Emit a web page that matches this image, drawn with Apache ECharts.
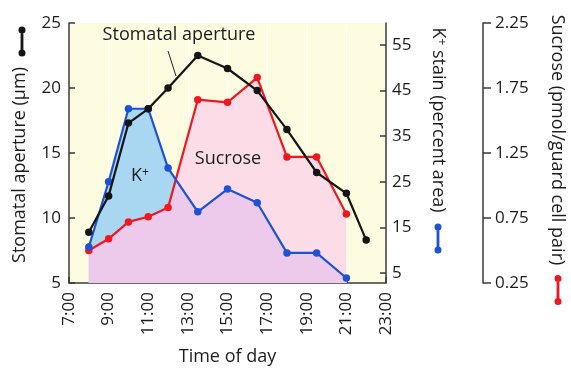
<!DOCTYPE html>
<html>
<head>
	<meta charset="utf-8" />
	<title>Stomatal aperture, K+ and sucrose</title>
	<script src="https://cdn.jsdelivr.net/npm/echarts@6/dist/echarts.min.js"></script>
	<style>
		html, body { margin: 0; padding: 0; background: #fff; }
		#chart { width: 571px; height: 368px; }
	</style>
</head>
<body>
	<div id="chart"></div>
	<script type="text/javascript">
		// time of day (hours)
		const apertureTimes = [8, 9, 10, 11, 12, 13.5, 15, 16.5, 18, 19.5, 21, 22];
		const aperture = [8.9, 11.7, 17.3, 18.4, 20.0, 22.5, 21.5, 19.8, 16.8, 13.5, 11.9, 8.3];

		const stainTimes = [8, 9, 10, 11, 12, 13.5, 15, 16.5, 18, 19.5, 21];
		const kStain = [10.7, 25, 41, 41, 28, 18.4, 23.4, 20.4, 9.4, 9.4, 3.9];
		const sucrose = [0.50, 0.59, 0.72, 0.76, 0.83, 1.66, 1.64, 1.83, 1.22, 1.22, 0.78];

		const kTicks = [5, 15, 25, 35, 45, 55];
		const sucTicks = [0.25, 0.75, 1.25, 1.75, 2.25];

		const kMin = 2.8, kMax = 59.8;
		const sucMin = 0.25, sucMax = 2.25;

		const font = 'Open Sans';
		const ink = '#1c1c1c';
		const axisInk = '#3a3a3a';
		const tickSize = 17;
		const textSize = 18;

		const cBlack = '#151515';
		const cBlue = '#1d52d6';
		const cRed = '#f01820';

		const chart = echarts.init(document.getElementById('chart'));

		// K+ stain expressed on the sucrose scale, so the shared part under both lines can be filled
		const kToSuc = function (k) {
			return sucMin + (k - kMin) / (kMax - kMin) * (sucMax - sucMin);
		};
		const lowerEdge = [];
		for (let i = 0; i < stainTimes.length; i++) {
			const a = kToSuc(kStain[i]), b = sucrose[i];
			lowerEdge.push([stainTimes[i], Math.min(a, b)]);
			if (i < stainTimes.length - 1) {
				const a2 = kToSuc(kStain[i + 1]), b2 = sucrose[i + 1];
				const d1 = a - b, d2 = a2 - b2;
				if (d1 * d2 < 0) {
					const t = d1 / (d1 - d2);
					lowerEdge.push([stainTimes[i] + t * (stainTimes[i + 1] - stainTimes[i]), a + t * (a2 - a)]);
				}
			}
		}

		const pairs = function (xs, ys) {
			return xs.map(function (x, i) { return [x, ys[i]]; });
		};

		const fill = function (name, yIdx, data, color, z) {
			return {
				name: name,
				type: 'line',
				yAxisIndex: yIdx,
				data: data,
				showSymbol: false,
				symbol: 'none',
				silent: true,
				z: z,
				lineStyle: { width: 0 },
				areaStyle: { color: color, opacity: 1 },
				animation: false
			};
		};

		const line = function (name, yIdx, data, color, z) {
			return {
				name: name,
				type: 'line',
				yAxisIndex: yIdx,
				data: data,
				symbol: 'circle',
				symbolSize: 7.5,
				z: z,
				lineStyle: { color: color, width: 2.2 },
				itemStyle: { color: color },
				animation: false
			};
		};

		// legend key: short vertical line with a dot on each end (all parts wound the same way)
		const keyIcon = 'path://M0,3.5a3.5,3.5 0 1,0 7,0a3.5,3.5 0 1,0 -7,0Z' +
			'M2.1,4L2.1,26L4.9,26L4.9,4Z' +
			'M0,26.5a3.5,3.5 0 1,0 7,0a3.5,3.5 0 1,0 -7,0Z';

		const key = function (name, left, top) {
			return {
				data: [name],
				left: left,
				top: top,
				padding: 0,
				orient: 'vertical',
				icon: keyIcon,
				itemWidth: 7,
				itemHeight: 30,
				selectedMode: false,
				formatter: function () { return ''; },
				textStyle: { fontSize: 1 }
			};
		};

		const titleStyle = {
			fontFamily: font,
			fontSize: textSize,
			fill: ink,
			align: 'center',
			verticalAlign: 'middle'
		};

		const kRich = {
			b: { fontFamily: font, fontSize: textSize, color: ink },
			s: { fontFamily: font, fontSize: 12, color: ink, verticalAlign: 'top', padding: [0, 0, 7, 0] }
		};

		const option = {
			backgroundColor: '#fff',
			legend: [
				key('Stomatal aperture', 18.5, 26.5),
				key('K+ stain', 434.5, 223.5),
				key('Sucrose', 554.5, 275)
			],
			grid: {
				left: 69,
				right: 185,
				top: 23,
				bottom: 85,
				outerBoundsMode: 'none',
				containLabel: false,
				show: true,
				backgroundColor: '#fdfbe0',
				borderWidth: 0
			},
			xAxis: {
				type: 'value',
				min: 7,
				max: 23,
				interval: 2,
				axisLine: { show: true, lineStyle: { color: axisInk, width: 1.5 } },
				axisTick: { show: true, inside: true, length: 6, lineStyle: { color: axisInk, width: 1.5 } },
				axisLabel: {
					rotate: 90,
					margin: 9,
					color: ink,
					fontFamily: font,
					fontSize: tickSize,
					formatter: function (v) { return v + ':00'; }
				},
				splitLine: { show: true, lineStyle: { color: '#ffffff', width: 1.2 } },
				name: 'Time of day',
				nameLocation: 'middle',
				nameGap: 65,
				nameTextStyle: { color: ink, fontFamily: font, fontSize: textSize }
			},
			yAxis: [{
				type: 'value',
				position: 'left',
				min: 5,
				max: 25,
				interval: 5,
				axisLine: { show: true, lineStyle: { color: axisInk, width: 1.5 } },
				axisTick: { show: true, inside: true, length: 6, lineStyle: { color: axisInk, width: 1.5 } },
				axisLabel: { margin: 8, color: ink, fontFamily: font, fontSize: tickSize },
				splitLine: { show: false }
			}, {
				type: 'value',
				position: 'right',
				min: kMin,
				max: kMax,
				axisLine: { show: true, lineStyle: { color: axisInk, width: 1.5 } },
				axisTick: { show: true, inside: true, length: 6, customValues: kTicks, lineStyle: { color: axisInk, width: 1.5 } },
				axisLabel: { margin: 6, color: ink, fontFamily: font, fontSize: tickSize, customValues: kTicks },
				splitLine: { show: false }
			}, {
				type: 'value',
				position: 'right',
				offset: 97,
				min: sucMin,
				max: sucMax,
				axisLine: { show: true, lineStyle: { color: axisInk, width: 1.5 } },
				axisTick: { show: true, inside: false, length: 8, customValues: sucTicks, lineStyle: { color: axisInk, width: 1.5 } },
				axisLabel: {
					margin: 12,
					color: ink,
					fontFamily: font,
					fontSize: tickSize,
					customValues: sucTicks,
					formatter: function (v) { return v.toFixed(2); }
				},
				splitLine: { show: false }
			}],
			series: [
				fill('sucrose area', 2, pairs(stainTimes, sucrose), '#fcdde7', 1),
				fill('K+ area', 1, pairs(stainTimes, kStain), '#a9d7f2', 2),
				fill('shared area', 2, lowerEdge, '#edc9ec', 3),
				line('Sucrose', 2, pairs(stainTimes, sucrose), cRed, 4),
				line('K+ stain', 1, pairs(stainTimes, kStain), cBlue, 5),
				line('Stomatal aperture', 0, pairs(apertureTimes, aperture), cBlack, 6)
			],
			graphic: [
				{ type: 'text', x: 20, y: 165, rotation: Math.PI / 2, style: Object.assign({ text: 'Stomatal aperture (μm)' }, titleStyle) },
				{
					type: 'text', x: 438, y: 120, rotation: -Math.PI / 2,
					style: Object.assign({ text: '{b|K}{s|+}{b| stain (percent area)}', rich: kRich }, titleStyle)
				},
				{ type: 'text', x: 557, y: 140, rotation: -Math.PI / 2, style: Object.assign({ text: 'Sucrose (pmol/guard cell pair)' }, titleStyle) },
				{ type: 'text', x: 179, y: 35, z: 20, style: Object.assign({ text: 'Stomatal aperture' }, titleStyle) },
				{ type: 'line', z: 20, shape: { x1: 168, y1: 51, x2: 176, y2: 76 }, style: { stroke: '#222', lineWidth: 1 } },
				{ type: 'text', x: 140, y: 176, z: 20, style: Object.assign({ text: '{b|K}{s|+}', rich: kRich }, titleStyle) },
				{ type: 'text', x: 228, y: 159, z: 20, style: Object.assign({ text: 'Sucrose' }, titleStyle) }
			]
		};

		chart.setOption(option);

		window.onresize = function () {
			chart.resize();
		};
	</script>
</body>
</html>
